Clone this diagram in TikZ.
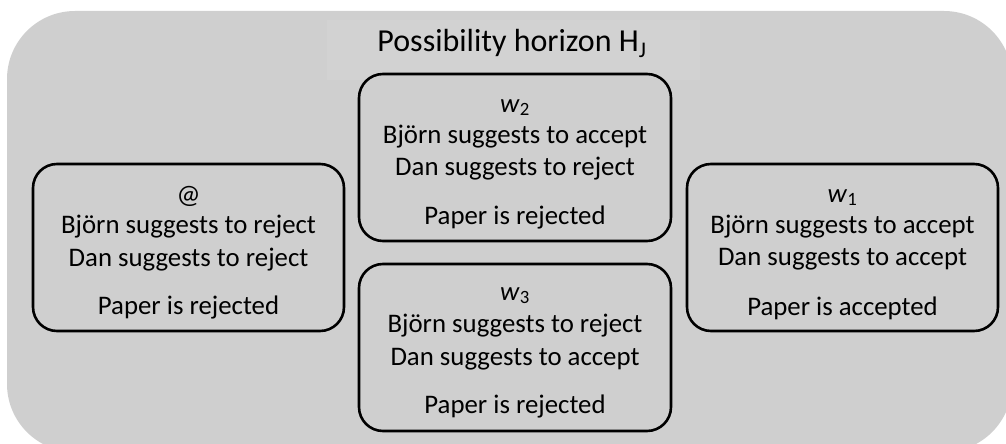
\documentclass[tikz,border=0pt]{standalone}
\usepackage{fontspec}
\setmainfont{Carlito}
\definecolor{bgray}{HTML}{CFCFCF}
\definecolor{tgray}{HTML}{D2D2D2}
\begin{document}
\begin{tikzpicture}[x=1pt,y=-1pt,
  world/.style={draw=black, line width=2.6pt, rounded corners=24pt, fill=bgray},
  txt/.style={font=\fontsize{26.8}{31}\selectfont, anchor=base, inner sep=0pt},
  ttl/.style={font=\fontsize{32}{37}\selectfont, anchor=base, inner sep=0pt}]
\useasboundingbox (0,0) rectangle (1006,444);
\begin{scope}
\clip (0,0) rectangle (1006,444);
\fill[bgray, rounded corners=68pt] (7,11) rectangle (1012,452);
\end{scope}
\fill[tgray] (327,20) rectangle (700,80);
\node[ttl] (title) at (512,52) {Possibility horizon H\textsubscript{J}};
% boxes
\draw[world] (33,164) rectangle (344,331);
\draw[world] (359,74) rectangle (671,241);
\draw[world] (359,264) rectangle (671,431);
\draw[world] (687,164) rectangle (998,331);
% actual world
\node[txt] (a0) at (188.5,203) {@};
\node[txt] (a1) at (188.5,233) {Björn suggests to reject};
\node[txt] (a2) at (188.5,266) {Dan suggests to reject};
\node[txt] (a3) at (188.5,314) {Paper is rejected};
% w2
\node[txt] (b0) at (515,112) {\textit{w}\textsubscript{2}};
\node[txt] (b1) at (515,143) {Björn suggests to accept};
\node[txt] (b2) at (515,175) {Dan suggests to reject};
\node[txt] (b3) at (515,224) {Paper is rejected};
% w3
\node[txt] (c0) at (515,300) {\textit{w}\textsubscript{3}};
\node[txt] (c1) at (515,332) {Björn suggests to reject};
\node[txt] (c2) at (515,365) {Dan suggests to accept};
\node[txt] (c3) at (515,413) {Paper is rejected};
% w1
\node[txt] (d0) at (842.5,202) {\textit{w}\textsubscript{1}};
\node[txt] (d1) at (842.5,233) {Björn suggests to accept};
\node[txt] (d2) at (842.5,265) {Dan suggests to accept};
\node[txt] (d3) at (842.5,315) {Paper is accepted};
\end{tikzpicture}
\end{document}
